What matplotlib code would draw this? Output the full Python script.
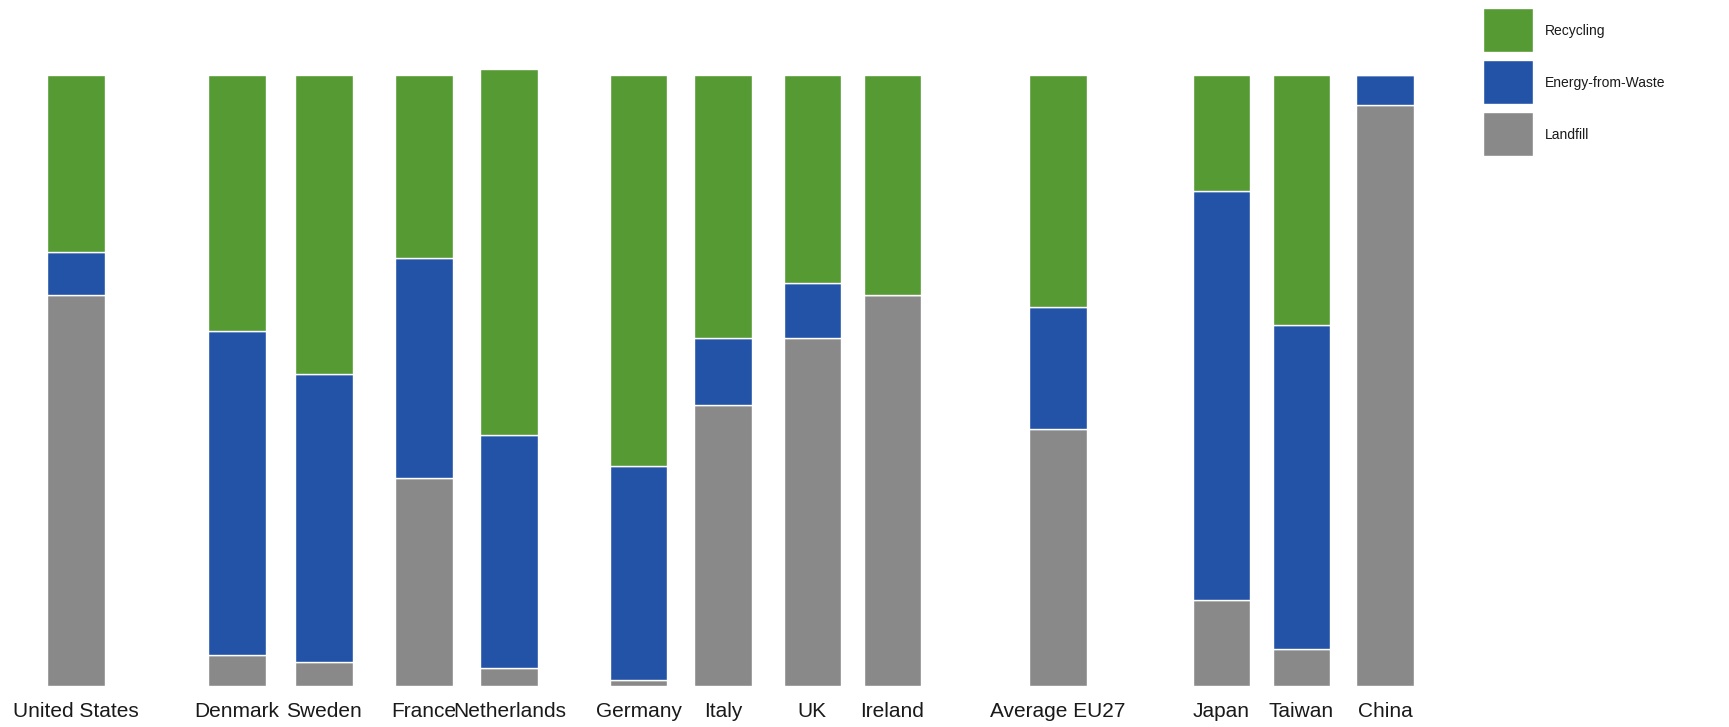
import matplotlib.pyplot as plt
from matplotlib.patches import Rectangle
import numpy as np

plt.rcParams['font.family'] = ['Liberation Sans', 'DejaVu Sans']

# Data (% of municipal waste)
countries = ['United States', 'Denmark', 'Sweden', 'France', 'Netherlands', 'Germany',
             'Italy', 'UK', 'Ireland', 'Average EU27', 'Japan', 'Taiwan', 'China']
landfill = [64.0, 5.0, 4.0, 34.0, 3.0, 1.0, 46.0, 57.0, 64.0, 42.0, 14.0, 6.0, 95.0]
energy_from_waste = [7.0, 53.0, 47.0, 36.0, 38.0, 35.0, 11.0, 9.0, 0.0, 20.0, 67.0, 53.0, 5.0]
recycling = [29.0, 42.0, 49.0, 30.0, 60.0, 64.0, 43.0, 34.0, 36.0, 38.0, 19.0, 41.0, 0.0]
legend_labels = ['Recycling', 'Energy-from-Waste', 'Landfill']

# layout: slot positions with gaps between groups
xpos = [0, 1.93, 2.97, 4.17, 5.19, 6.74, 7.75, 8.82, 9.78, 11.76, 13.72, 14.68, 15.68]

green = '#559a33'
blue = '#2253a7'
grey = '#898989'

W, H = 1729, 727
fig = plt.figure(figsize=(W / 100, H / 100), dpi=100)
ax = fig.add_axes([0.0, 0.0564, 1.0, 0.86])

landfill = np.array(landfill)
energy_from_waste = np.array(energy_from_waste)
recycling = np.array(recycling)

w = 0.69
ax.bar(xpos, landfill, w, color=grey, edgecolor='white', linewidth=1)
ax.bar(xpos, energy_from_waste, w, bottom=landfill, color=blue, edgecolor='white', linewidth=1)
ax.bar(xpos, recycling, w, bottom=landfill + energy_from_waste, color=green,
       edgecolor='white', linewidth=1)

ax.set_ylim(0, 100.0 * 625 / 611)
ax.set_xlim(-0.91, 19.8)
ax.set_xticks(xpos)
ax.set_xticklabels(countries, fontsize=15, color='#1a1a1a')
ax.tick_params(axis='x', length=0, pad=11.5)
ax.set_yticks([])
for s in ax.spines.values():
    s.set_visible(False)

# legend drawn as boxes in the top right corner
for i, (lab, col) in enumerate(zip(legend_labels, [green, blue, grey])):
    top = 8 + i * 52
    fig.add_artist(Rectangle((1483 / W, 1 - (top + 44) / H), 50 / W, 44 / H,
                             transform=fig.transFigure, facecolor=col,
                             edgecolor='white', linewidth=1))
    fig.text(1545 / W, 1 - (top + 23) / H, lab, fontsize=10, color='#1a1a1a',
             va='center', ha='left')

fig.savefig('out.png', dpi=100)
